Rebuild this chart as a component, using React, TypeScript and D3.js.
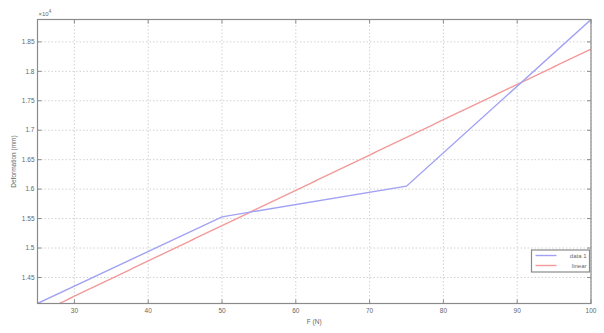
import React from "react";
import * as d3 from "d3";

const forceN = [25, 50, 75, 100];
const deformation = [14058, 15530, 16050, 18880];
const xTicks = [30, 40, 50, 60, 70, 80, 90, 100];
const yTicks = [14500, 15000, 15500, 16000, 16500, 17000, 17500, 18000, 18500];
const yTickLabels = ["1.45", "1.5", "1.55", "1.6", "1.65", "1.7", "1.75", "1.8", "1.85"];
const legendLabels = ["data 1", "linear"];

const W = 604, H = 333;
const M = { left: 37.5, right: 13, top: 19.5, bottom: 29.5 };

function fitLine(xs: number[], ys: number[]) {
  const mx = d3.mean(xs)!, my = d3.mean(ys)!;
  let num = 0, den = 0;
  xs.forEach((x, i) => { num += (x - mx) * (ys[i] - my); den += (x - mx) ** 2; });
  const b = num / den;
  return { b, a: my - b * mx };
}

export default function App() {
  const x = d3.scaleLinear().domain([25, 100]).range([M.left, W - M.right]);
  const y = d3.scaleLinear().domain([d3.min(deformation)!, d3.max(deformation)!]).range([H - M.bottom, M.top]);
  const { a, b } = fitLine(forceN, deformation);
  const fitX = d3.range(25, 100.01, 0.5);
  const line = d3.line<[number, number]>().x(d => x(d[0])).y(d => y(d[1]));
  const dataPath = line(forceN.map((f, i) => [f, deformation[i]]))!;
  const fitPath = line(fitX.map(f => [f, a + b * f] as [number, number]))!;
  const x0 = M.left, x1 = W - M.right, y0 = H - M.bottom, y1 = M.top;
  const font = "Liberation Sans, Arial, sans-serif";
  const axisCol = "#8a8a8a";
  const gridCol = "#d2d2d2";
  const textCol = "#666";
  const blue = "#a2a2f4";
  const red = "#f29a9a";
  const lx = 531.5, ly = 250, lw = 58, lh = 22;
  return (
    <svg width={W} height={H} style={{ position: "absolute", left: 0, top: 0, background: "#fff" }}>
      <defs>
        <clipPath id="plot"><rect x={x0} y={y1} width={x1 - x0} height={y0 - y1} /></clipPath>
      </defs>
      <rect width={W} height={H} fill="#fff" />
      {xTicks.map(t => (
        <line key={"gx" + t} x1={x(t)} x2={x(t)} y1={y0} y2={y1} stroke={gridCol} strokeWidth={1} strokeDasharray="1.5,2" />
      ))}
      {yTicks.map(t => (
        <line key={"gy" + t} x1={x0} x2={x1} y1={y(t)} y2={y(t)} stroke={gridCol} strokeWidth={1} strokeDasharray="1.5,2" />
      ))}
      <g clipPath="url(#plot)">
        <path d={fitPath} fill="none" stroke={red} strokeWidth={1.4} />
        <path d={dataPath} fill="none" stroke={blue} strokeWidth={1.4} />
      </g>
      <rect x={x0} y={y1} width={x1 - x0} height={y0 - y1} fill="none" stroke={axisCol} strokeWidth={1.2} />
      {xTicks.map(t => (
        <g key={"tx" + t}>
          <line x1={x(t)} x2={x(t)} y1={y0} y2={y0 - 4} stroke={axisCol} />
          <line x1={x(t)} x2={x(t)} y1={y1} y2={y1 + 4} stroke={axisCol} />
          <text x={x(t)} y={y0 + 9} fontSize={6.5} fontFamily={font} fill={textCol} textAnchor="middle">{t}</text>
        </g>
      ))}
      {yTicks.map((t, i) => (
        <g key={"ty" + t}>
          <line x1={x0} x2={x0 + 4} y1={y(t)} y2={y(t)} stroke={axisCol} />
          <line x1={x1} x2={x1 - 4} y1={y(t)} y2={y(t)} stroke={axisCol} />
          <text x={x0 - 3} y={y(t) + 2.2} fontSize={6.5} fontFamily={font} fill={textCol} textAnchor="end">{yTickLabels[i]}</text>
        </g>
      ))}
      <text x={x0 + 1} y={y1 - 4} fontSize={6} fontFamily={font} fill={textCol}>×10<tspan dy={-2.5} fontSize={4.5}>4</tspan></text>
      <text x={(x0 + x1) / 2} y={y0 + 20} fontSize={6.5} fontFamily={font} fill={textCol} textAnchor="middle">F (N)</text>
      <text transform={`translate(16,${(y0 + y1) / 2}) rotate(-90)`} fontSize={6.5} fontFamily={font} fill={textCol} textAnchor="middle">Deformation (mm)</text>
      <rect x={lx} y={ly} width={lw} height={lh} fill="#fff" stroke={axisCol} strokeWidth={1.2} />
      <line x1={lx + 4} x2={lx + 25} y1={ly + 5.5} y2={ly + 5.5} stroke={blue} strokeWidth={1.4} />
      <line x1={lx + 4} x2={lx + 25} y1={ly + 15.5} y2={ly + 15.5} stroke={red} strokeWidth={1.4} />
      <text x={lx + lw - 3} y={ly + 7.5} fontSize={6} fontFamily={font} fill={textCol} textAnchor="end">{legendLabels[0]}</text>
      <text x={lx + lw - 3} y={ly + 17.5} fontSize={6} fontFamily={font} fill={textCol} textAnchor="end">{legendLabels[1]}</text>
    </svg>
  );
}
